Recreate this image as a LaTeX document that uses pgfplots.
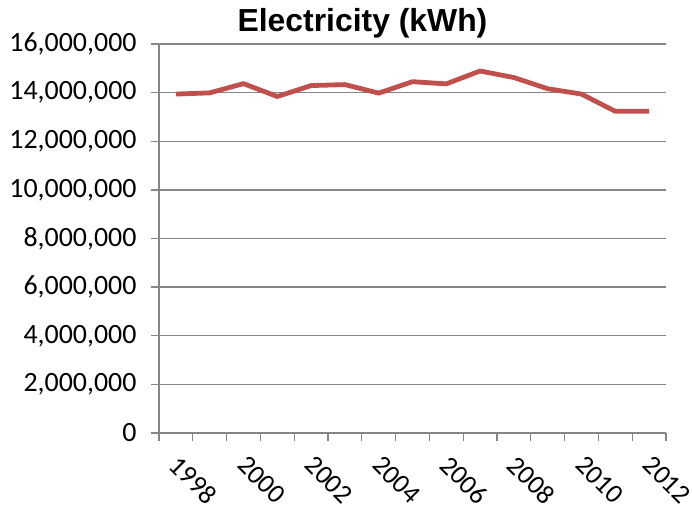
\documentclass[border=0pt]{standalone}
\usepackage{pgfplots}
\pgfplotsset{compat=1.18}
\usepackage{fontspec}
\setmainfont{Carlito}
\newfontfamily\titlefont{Liberation Sans}
\definecolor{exred}{HTML}{C0504D}
\definecolor{axgray}{HTML}{868686}
\begin{document}
\begin{tikzpicture}
\begin{axis}[
  scale only axis, width=507bp, height=389bp,
  xmin=0, xmax=15, ymin=0, ymax=16000000,
  axis x line*=bottom, axis y line*=left,
  axis line style={axgray, line width=1.3bp},
  ytick={0,2000000,4000000,6000000,8000000,10000000,12000000,14000000,16000000},
  ymajorgrids, grid style={axgray, line width=1.3bp},
  xtick={0,1,...,15}, xticklabels={},
  extra x ticks={0.5,2.5,4.5,6.5,8.5,10.5,12.5,14.5},
  extra x tick labels={1998,2000,2002,2004,2006,2008,2010,2012},
  extra x tick style={major tick length=0pt, grid=none,
    tick label style={rotate=-45, anchor=north west, font=\fontsize{27}{27}\selectfont, yshift=-8bp, xshift=15bp}},
  tick style={axgray, line width=1.3bp},
  major tick length=8bp,
  tick align=outside,
  scaled y ticks=false,
  /pgf/number format/assume math mode=true,
  yticklabel style={font=\fontsize{28}{28}\selectfont, xshift=-11bp, /pgf/number format/fixed, /pgf/number format/precision=0, /pgf/number format/1000 sep={,}},
  title={Electricity (kWh)},
  title style={font=\titlefont\bfseries\fontsize{32}{32}\selectfont, xshift=-50bp, yshift=-4bp},
]
\addplot[exred, line width=4.8bp, line join=round] coordinates {
(0.5,13940000) (1.5,13990000) (2.5,14370000) (3.5,13840000) (4.5,14290000)
(5.5,14330000) (6.5,13980000) (7.5,14450000) (8.5,14360000) (9.5,14890000)
(10.5,14620000) (11.5,14160000) (12.5,13940000) (13.5,13230000) (14.5,13230000)
};
\end{axis}
\pgfresetboundingbox
\path ([xshift=-159bp,yshift=-74bp]current axis.south west) rectangle ([xshift=26bp,yshift=44bp]current axis.north east);
\end{tikzpicture}
\end{document}
